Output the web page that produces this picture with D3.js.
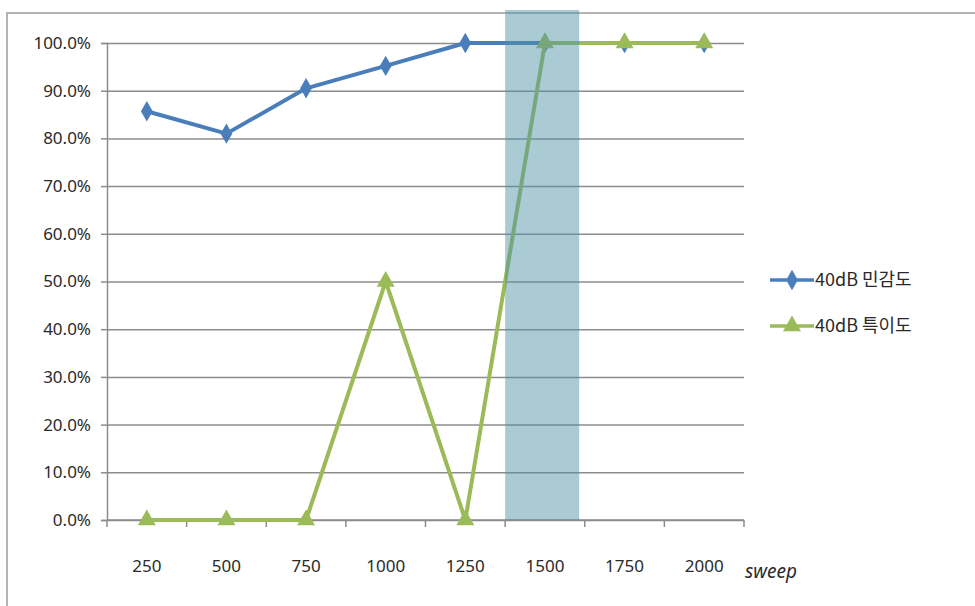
<!DOCTYPE html>
<html>
<head>
<meta charset="utf-8">
<script src="https://cdn.jsdelivr.net/npm/d3@7"></script>
<style>
  body { margin: 0; background: #fff; }
  text { font-family: "Noto Sans", "Noto Sans CJK KR", sans-serif; fill: #2a2a2a; }
  .legend text { font-family: "Noto Sans CJK KR", "Noto Sans", sans-serif; }
</style>
</head>
<body>
<svg id="chart" width="975" height="606"></svg>
<script>
// Data
const categories = ["250", "500", "750", "1000", "1250", "1500", "1750", "2000"];
const sensitivity = [0.857, 0.810, 0.905, 0.952, 1.0, 1.0, 1.0, 1.0];
const specificity = [0.0, 0.0, 0.0, 0.5, 0.0, 1.0, 1.0, 1.0];
const yTicks = [0, 0.1, 0.2, 0.3, 0.4, 0.5, 0.6, 0.7, 0.8, 0.9, 1.0];
const seriesNames = ["40dB 민감도", "40dB 특이도"];
const highlight = "1500";

const svg = d3.select("#chart");

// outer frame
svg.append("rect")
  .attr("x", 7).attr("y", 13)
  .attr("width", 1000).attr("height", 700)
  .attr("fill", "none")
  .attr("stroke", "#b4b4b4")
  .attr("stroke-width", 2);

const plotLeft = 107, plotRight = 744, plotTop = 43, plotBottom = 520;

const x = d3.scaleBand().domain(categories).range([plotLeft, plotRight]);
const y = d3.scaleLinear().domain([0, 1]).range([plotBottom, plotTop]);

// grid lines
svg.append("g")
  .attr("transform", `translate(${plotLeft},0)`)
  .call(d3.axisLeft(y).tickValues(yTicks).tickSize(-(plotRight - plotLeft)).tickFormat(""))
  .call(g => g.select(".domain").remove())
  .selectAll("line")
  .attr("stroke", "#8c8c8c")
  .attr("stroke-width", 1.5);

// y axis
const yAxis = svg.append("g")
  .attr("transform", `translate(${plotLeft},0)`)
  .call(d3.axisLeft(y).tickValues(yTicks).tickSize(6).tickPadding(10)
    .tickFormat(d => (d * 100).toFixed(1) + "%"));
yAxis.attr("font-family", null).attr("font-size", null);
yAxis.select(".domain").attr("stroke", "#8c8c8c").attr("stroke-width", 1.5);
yAxis.selectAll("line").attr("stroke", "#8c8c8c").attr("stroke-width", 1.5);
yAxis.selectAll("text")
  .style("font-size", "17px")
  .attr("fill", "#2a2a2a");

// x axis (ticks at band boundaries)
const xAxis = svg.append("g")
  .attr("transform", `translate(0,${plotBottom})`);
xAxis.append("line")
  .attr("x1", plotLeft).attr("x2", plotRight)
  .attr("stroke", "#8c8c8c").attr("stroke-width", 1.5);
xAxis.selectAll(".tick-mark")
  .data(categories.map(c => x(c)).concat([plotRight]))
  .enter().append("line")
  .attr("x1", d => d).attr("x2", d => d)
  .attr("y1", 0).attr("y2", 7)
  .attr("stroke", "#8c8c8c").attr("stroke-width", 1.5);
xAxis.selectAll(".label")
  .data(categories)
  .enter().append("text")
  .attr("x", d => x(d) + x.bandwidth() / 2)
  .attr("y", 52)
  .attr("text-anchor", "middle")
  .style("font-size", "17px")
  .text(d => d);

svg.append("text")
  .attr("x", plotRight + 1)
  .attr("y", 578)
  .style("font-size", "19px")
  .style("font-style", "italic")
  .text("sweep");

const line = d3.line()
  .x((d, i) => x(categories[i]) + x.bandwidth() / 2)
  .y(d => y(d));

const diamond = d3.symbol().type(d3.symbolDiamond).size(120);
const triangle = d3.symbol().type(d3.symbolTriangle).size(140);

function drawSeries(values, color, sym) {
  svg.append("path")
    .datum(values)
    .attr("fill", "none")
    .attr("stroke", color)
    .attr("stroke-width", 4)
    .attr("stroke-linejoin", "round")
    .attr("d", line);
  svg.selectAll(null)
    .data(values)
    .enter().append("path")
    .attr("d", sym)
    .attr("transform", (d, i) => `translate(${x(categories[i]) + x.bandwidth() / 2},${y(d)})`)
    .attr("fill", color);
}

drawSeries(sensitivity, "#4a7ebb", diamond);
drawSeries(specificity, "#9bbb59", triangle);

// highlighted sweep band (semi-transparent, over the lines)
svg.append("rect")
  .attr("x", x(highlight))
  .attr("y", 10)
  .attr("width", x.bandwidth() * 0.93)
  .attr("height", plotBottom - 10)
  .attr("fill", "#4f93a6")
  .attr("opacity", 0.48);

// legend
const legend = svg.append("g").attr("class", "legend").attr("transform", "translate(770,280)");
const legendItems = [
  { name: seriesNames[0], color: "#4a7ebb", sym: diamond },
  { name: seriesNames[1], color: "#9bbb59", sym: triangle }
];
legendItems.forEach((item, i) => {
  const g = legend.append("g").attr("transform", `translate(0,${i * 46})`);
  g.append("line")
    .attr("x1", 0).attr("x2", 44)
    .attr("stroke", item.color).attr("stroke-width", 3.5);
  g.append("path")
    .attr("d", item.sym)
    .attr("transform", "translate(22,0)")
    .attr("fill", item.color);
  g.append("text")
    .attr("x", 45)
    .attr("y", 0)
    .attr("dy", "0.35em")
    .style("font-size", "18px")
    .text(item.name);
});
</script>
</body>
</html>
